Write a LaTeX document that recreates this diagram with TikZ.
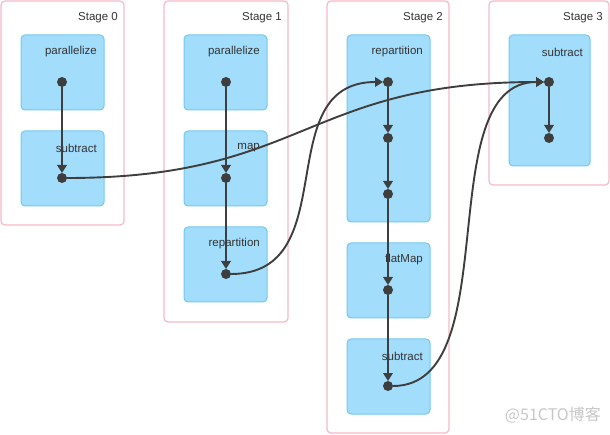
\documentclass[tikz,border=0pt]{standalone}
\usepackage{fontspec}
\setmainfont{Liberation Sans}
\newfontfamily\cjk{Noto Sans CJK SC}
\usetikzlibrary{arrows.meta}
\definecolor{stagepink}{RGB}{246,184,198}
\definecolor{opfill}{RGB}{163,221,252}
\definecolor{opline}{RGB}{112,200,242}
\definecolor{edgegray}{RGB}{62,62,62}

\begin{document}
\begin{tikzpicture}[x=1pt,y=-1pt,
    stagebox/.style={draw=stagepink, line width=1.2pt, rounded corners=4pt, anchor=north west, inner sep=0pt, outer sep=0pt},
    opbox/.style={draw=opline, fill=opfill, line width=1pt, rounded corners=4pt, anchor=north west, minimum width=83pt, minimum height=75pt, inner sep=0pt, outer sep=0pt},
    boxlbl/.style={anchor=east, font=\fontsize{11.5}{13}\selectfont, text=black!80, inner sep=0pt},
    opdot/.style={circle, fill=edgegray, minimum size=10pt, inner sep=0pt, outer sep=0pt},
    flow/.style={draw=edgegray, line width=1.9pt, -{Triangle[length=8pt,width=9.5pt]}}]
        \useasboundingbox (0,0) rectangle (610,435);
        \node[stagebox, minimum width=123pt, minimum height=224pt] (st0) at (1,1) {};
        \node[stagebox, minimum width=124pt, minimum height=321pt] (st1) at (164,1) {};
        \node[stagebox, minimum width=122pt, minimum height=432pt] (st2) at (327,1) {};
        \node[stagebox, minimum width=120pt, minimum height=184pt] (st3) at (489,1) {};
        \node[boxlbl] (st0lbl) at ([shift={(-6,17)}]st0.north east) {Stage 0};
        \node[boxlbl] (st1lbl) at ([shift={(-6,17)}]st1.north east) {Stage 1};
        \node[boxlbl] (st2lbl) at ([shift={(-6,17)}]st2.north east) {Stage 2};
        \node[boxlbl] (st3lbl) at ([shift={(-6,17)}]st3.north east) {Stage 3};
        \node[opbox] (par0) at (21,35) {};
        \node[opbox] (sub0) at (21,131) {};
        \node[opbox] (par1) at (184,35) {};
        \node[opbox] (map1) at (184,131) {};
        \node[opbox] (rep1) at (184,227) {};
        \node[opbox, minimum height=187pt] (rep2) at (347,35) {};
        \node[opbox] (flat2) at (347,243) {};
        \node[opbox] (sub2) at (347,339) {};
        \node[opbox, minimum width=81pt, minimum height=131pt] (sub3) at (509,35) {};
        \node[boxlbl] at ([shift={(-7,17)}]par0.north east) {parallelize};
        \node[boxlbl] at ([shift={(-7,17)}]sub0.north east) {subtract};
        \node[boxlbl] at ([shift={(-7,17)}]par1.north east) {parallelize};
        \node[boxlbl] at ([shift={(-7,17)}]map1.north east) {map};
        \node[boxlbl] at ([shift={(-7,17)}]rep1.north east) {repartition};
        \node[boxlbl] at ([shift={(-7,17)}]rep2.north east) {repartition};
        \node[boxlbl] at ([shift={(-7,17)}]flat2.north east) {flatMap};
        \node[boxlbl] at ([shift={(-7,17)}]sub2.north east) {subtract};
        \node[boxlbl] at ([shift={(-7,17)}]sub3.north east) {subtract};
        \node[opdot] (d0a) at (62,82) {};
        \node[opdot] (d0b) at (62,178) {};
        \node[opdot] (d1a) at (226,82) {};
        \node[opdot] (d1b) at (226,178) {};
        \node[opdot] (d1c) at (226,274) {};
        \node[opdot] (d2a) at (388,82) {};
        \node[opdot] (d2b) at (388,138) {};
        \node[opdot] (d2c) at (388,194) {};
        \node[opdot] (d2d) at (388,290) {};
        \node[opdot] (d2e) at (388,386) {};
        \node[opdot] (d3a) at (549,82) {};
        \node[opdot] (d3b) at (549,138) {};
        \draw[flow] (d0a) -- (d0b);
        \draw[flow] (d1a) -- (d1b);
        \draw[flow] (d1b) -- (d1c);
        \draw[flow] (d2a) -- (d2b);
        \draw[flow] (d2b) -- (d2c);
        \draw[flow] (d2c) -- (d2d);
        \draw[flow] (d2d) -- (d2e);
        \draw[flow] (d3a) -- (d3b);
        \draw[flow] (d0b) .. controls +(243,0) and +(-243,0) .. (d3a);
        \draw[flow] (d1c) .. controls +(120,0) and +(-120,0) .. (d2a);
        \draw[flow] (d2e) .. controls +(120,0) and +(-120,0) .. (d3a);
        \node[anchor=east, inner sep=0pt, text=black!22, font=\cjk\fontsize{16}{18}\selectfont] (mark) at (601,415) {@51CTO博客};
    \end{tikzpicture}
\end{document}
